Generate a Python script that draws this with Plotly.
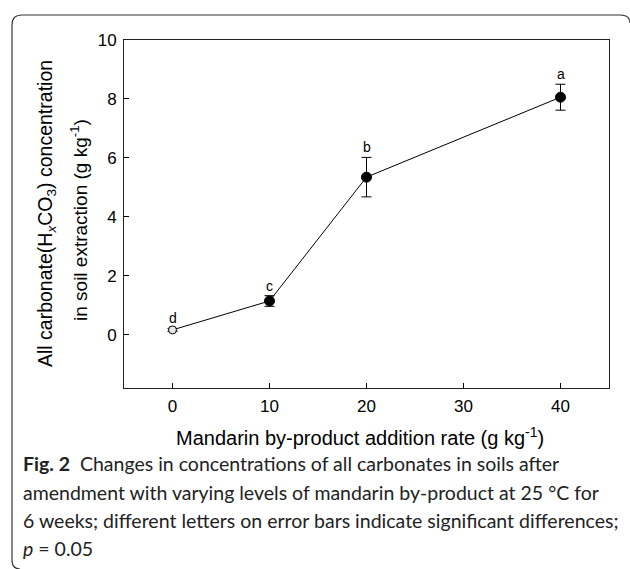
import plotly.graph_objects as go

# ---- data ----
rates = [0, 10, 20, 40]                 # g kg-1
means = [0.17, 1.15, 5.35, 8.06]        # g kg-1
errs = [0.05, 0.18, 0.67, 0.44]
letters = ["d", "c", "b", "a"]
x_ticks = [0, 10, 20, 30, 40]
y_ticks = [0, 2, 4, 6, 8, 10]

W, H = 630, 569
L, R, T, B = 124, 609, 40, 388   # plot area in pixels


def px(x):
    return (x - L) / (R - L)


def py(y):
    return (B - y) / (B - T)


AX_FONT = "Liberation Sans, Arial, sans-serif"
CAP_FONT = "Lato, Open Sans, sans-serif"

fig = go.Figure()
fig.add_trace(go.Scatter(
    x=rates, y=means,
    mode="lines+markers",
    line=dict(color="black", width=1),
    marker=dict(size=[8, 10, 10, 10],
                color=["#e6e6e6", "black", "black", "black"],
                opacity=1,
                line=dict(color="black", width=1)),
    error_y=dict(type="data", array=errs, visible=True,
                 color="black", thickness=1, width=5),
    showlegend=False,
))

for xv, m, e, lab in zip(rates, means, errs, letters):
    fig.add_annotation(x=xv, y=m + e, text=lab, showarrow=False,
                       yshift=10, yanchor="middle",
                       font=dict(family=AX_FONT, size=14, color="black"))

fig.update_xaxes(range=[-5, 45], tickvals=x_ticks, ticks="inside", ticklen=5,
                 tickcolor="black", showline=True, linecolor="#222", linewidth=1,
                 mirror=True, showgrid=False, zeroline=False, ticklabelstandoff=3,
                 tickfont=dict(family=AX_FONT, size=17, color="black"))
fig.update_yaxes(range=[-1.8, 10], tickvals=y_ticks, ticks="inside", ticklen=5,
                 tickcolor="black", showline=True, linecolor="#222", linewidth=1,
                 mirror=True, showgrid=False, zeroline=False, ticklabelstandoff=3,
                 tickfont=dict(family=AX_FONT, size=17, color="black"))

# axis titles
fig.add_annotation(xref="paper", yref="paper", x=px(360), y=py(436),
                   text="Mandarin by-product addition rate (g kg<sup>-1</sup>)",
                   showarrow=False, xanchor="center", yanchor="middle",
                   font=dict(family=AX_FONT, size=20, color="black"))
fig.add_annotation(xref="paper", yref="paper", x=px(46), y=py(214),
                   text="All carbonate(H<sub><i>x</i></sub>CO<sub>3</sub>) concentration",
                   textangle=-90, showarrow=False, xanchor="center", yanchor="middle",
                   font=dict(family=AX_FONT, size=19.5, color="black"))
fig.add_annotation(xref="paper", yref="paper", x=px(79), y=py(220),
                   text="in soil extraction (g kg<sup>-1</sup>)",
                   textangle=-90, showarrow=False, xanchor="center", yanchor="middle",
                   font=dict(family=AX_FONT, size=19, color="black"))

# caption
cap_lines = [
    "<b>Fig. 2</b>  Changes in concentrations of all carbonates in soils after",
    "amendment with varying levels of mandarin by-product at 25 °C for",
    "6 weeks; different letters on error bars indicate significant differences;",
    "<i>p</i> = 0.05",
]
cap_y = [463, 492, 520, 548]
for txt, yy in zip(cap_lines, cap_y):
    fig.add_annotation(xref="paper", yref="paper", x=px(21), y=py(yy),
                       text=txt, showarrow=False, xanchor="left", yanchor="middle",
                       font=dict(family=CAP_FONT, size=19.5, color="#222"))

# rounded frame around figure
pts = [(20, 569), (12, 569), (12, 560), (12, 25), (12, 15), (22, 15),
       (620, 15), (630, 15), (630, 23)]
p = [(px(a), py(b)) for a, b in pts]
path = ("M {0[0]},{0[1]} Q {1[0]},{1[1]} {2[0]},{2[1]} L {3[0]},{3[1]} "
        "Q {4[0]},{4[1]} {5[0]},{5[1]} L {6[0]},{6[1]} Q {7[0]},{7[1]} {8[0]},{8[1]}").format(*p)
fig.add_shape(type="path", xref="paper", yref="paper", path=path,
              line=dict(color="#333", width=1.2))

fig.update_layout(width=W, height=H,
                  margin=dict(l=L, r=W - R, t=T, b=H - B),
                  paper_bgcolor="white", plot_bgcolor="white")

fig.write_html("out.html", config={"displayModeBar": False},
               post_script="document.body.style.margin='0';document.body.style.overflow='hidden';")
